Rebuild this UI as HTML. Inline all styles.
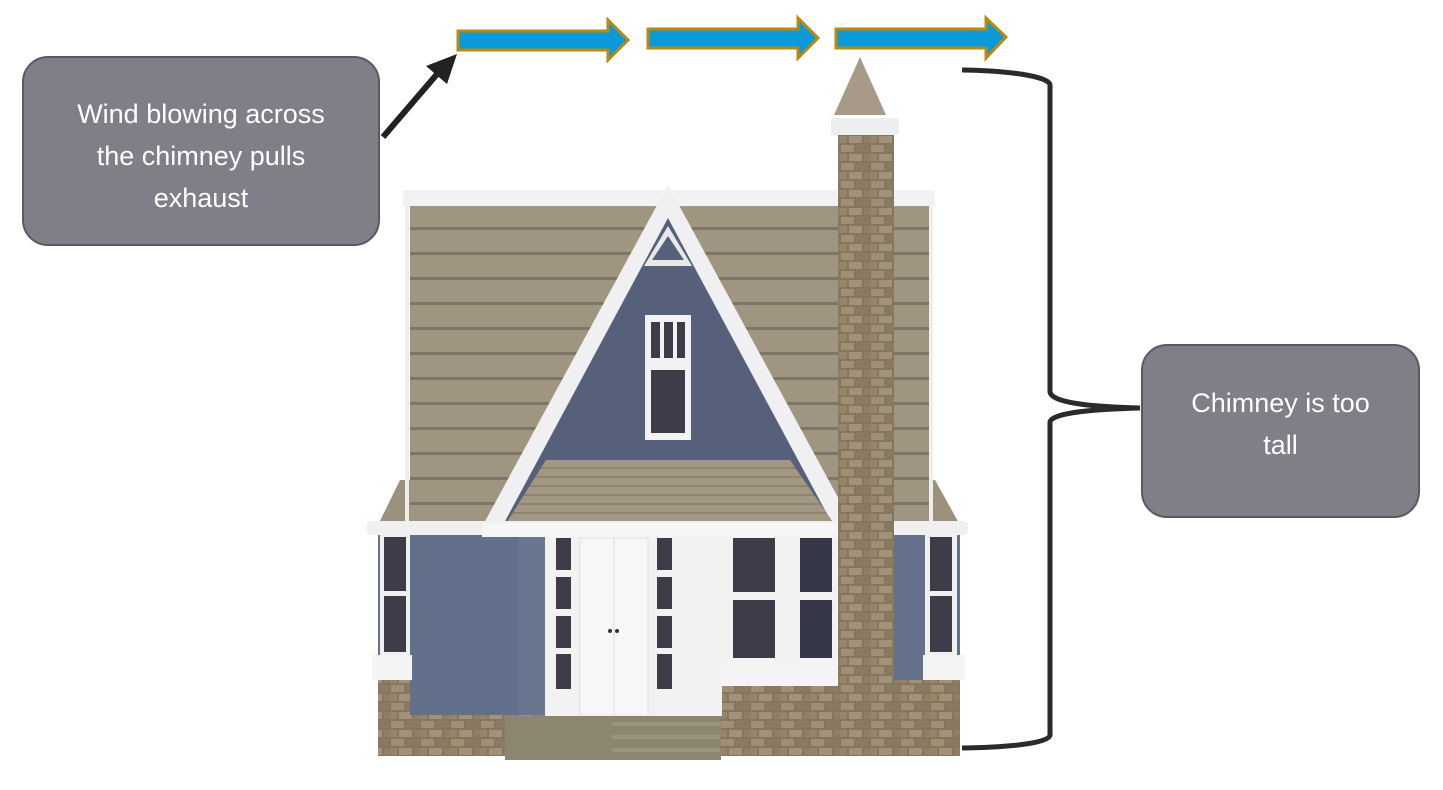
<!DOCTYPE html>
<html><head><style>
html,body{margin:0;padding:0;background:#fff;width:1443px;height:790px;overflow:hidden;}
.box{position:absolute;background:#807f87;border:2px solid #5a5960;border-radius:26px;color:#fff;font-family:"Liberation Sans",sans-serif;font-size:27px;text-align:center;line-height:42px;box-sizing:border-box;}
</style></head><body>
<svg width="1443" height="790" style="position:absolute;left:0;top:0">
<defs>
<pattern id="brick" width="30" height="18" patternUnits="userSpaceOnUse">
<rect width="30" height="18" fill="#857660"/>
<rect x="1" y="1" width="13" height="7" fill="#a08f75"/><rect x="16" y="1" width="13" height="7" fill="#8a7a62"/>
<rect x="-6" y="10" width="13" height="7" fill="#968569"/><rect x="9" y="10" width="13" height="7" fill="#a39279"/><rect x="24" y="10" width="13" height="7" fill="#8f7f66"/>
</pattern>
<pattern id="siding" width="10" height="25" patternUnits="userSpaceOnUse" y="205">
<rect width="10" height="25" fill="#a09581"/><rect y="22" width="10" height="3" fill="#7f7563"/>
</pattern>
<pattern id="siding2" width="10" height="9" patternUnits="userSpaceOnUse" y="460">
<rect width="10" height="9" fill="#a29782"/><rect y="7" width="10" height="2" fill="#8e846f"/>
</pattern>
</defs>
<polygon points="458,31 608,31 608,20 628,40 608,60 608,50 458,50" fill="#0b9ad9" stroke="#b88a12" stroke-width="3"/>
<polygon points="648,29 798,29 798,18 818,38 798,58 798,48 648,48" fill="#0b9ad9" stroke="#b88a12" stroke-width="3"/>
<polygon points="836,29 986,29 986,18 1006,37 986,58 986,48 836,48" fill="#0b9ad9" stroke="#b88a12" stroke-width="3"/>
<line x1="383" y1="137" x2="438" y2="73" stroke="#222" stroke-width="6"/>
<polygon points="457,54 447,84 426,66" fill="#222"/>
<path d="M962,70 C1020,71 1050,78 1050,85 L1050,392 C1052,404 1100,407 1140,408 C1100,409 1052,412 1050,422 L1050,735 C1050,742 1020,747 962,748" fill="none" stroke="#2a2a2a" stroke-width="5"/>
<polygon points="400,480 378,525 960,525 935,480" fill="#9c917c"/>
<rect x="410" y="205" width="520" height="320" fill="url(#siding)"/>
<rect x="403" y="190" width="532" height="16" fill="#f2f2f2"/>
<rect x="405" y="206" width="4" height="320" fill="#eee"/>
<rect x="929" y="206" width="4" height="320" fill="#eee"/>
<polygon points="668,185 853,525 483,525" fill="#f0f0f2"/>
<polygon points="668,218 833,525 503,525" fill="#56607a"/>
<polygon points="668,226 692,266 644,266" fill="#e8e8ea"/>
<polygon points="668,236 684,260 652,260" fill="#55607a"/>
<rect x="645" y="315" width="46" height="125" fill="#f2f2f2"/>
<rect x="651" y="322" width="9" height="36" fill="#3d3c48"/><rect x="664" y="322" width="9" height="36" fill="#3d3c48"/><rect x="677" y="322" width="8" height="36" fill="#3d3c48"/>
<rect x="651" y="370" width="34" height="63" fill="#3d3c48"/>
<polygon points="546,460 790,460 835,525 505,525" fill="url(#siding2)"/>
<rect x="378" y="533" width="582" height="185" fill="#65708b"/>
<rect x="378" y="680" width="582" height="76" fill="url(#brick)"/>
<rect x="410" y="535" width="110" height="180" fill="#63708c"/>
<rect x="518" y="535" width="30" height="180" fill="#6a7590"/>
<rect x="380" y="535" width="30" height="122" fill="#f0f0f0"/>
<rect x="384" y="537" width="22" height="54" fill="#3d3c48"/><rect x="384" y="596" width="22" height="56" fill="#3d3c48"/>
<rect x="372" y="655" width="40" height="25" fill="#f4f4f4"/>
<rect x="545" y="536" width="177" height="180" fill="#f2f2f2"/>
<rect x="556" y="538" width="15" height="32" fill="#3d3c48"/><rect x="556" y="577" width="15" height="32" fill="#3d3c48"/><rect x="556" y="616" width="15" height="32" fill="#3d3c48"/><rect x="556" y="654" width="15" height="35" fill="#3d3c48"/>
<rect x="657" y="538" width="15" height="32" fill="#3d3c48"/><rect x="657" y="577" width="15" height="32" fill="#3d3c48"/><rect x="657" y="616" width="15" height="32" fill="#3d3c48"/><rect x="657" y="654" width="15" height="35" fill="#3d3c48"/>
<rect x="580" y="538" width="68" height="178" fill="#f7f7f7" stroke="#e0e0e0"/>
<line x1="614" y1="538" x2="614" y2="716" stroke="#ddd"/>
<circle cx="610" cy="631" r="2" fill="#333"/><circle cx="617" cy="631" r="2" fill="#333"/>
<rect x="505" y="716" width="216" height="44" fill="#8c8570"/>
<rect x="612" y="722" width="108" height="4" fill="#9b947f"/><rect x="612" y="735" width="108" height="4" fill="#9b947f"/><rect x="612" y="748" width="108" height="4" fill="#9b947f"/>
<rect x="722" y="536" width="116" height="126" fill="#f2f2f2"/>
<rect x="733" y="538" width="42" height="54" fill="#3d3c48"/><rect x="733" y="600" width="42" height="58" fill="#3d3c48"/>
<rect x="800" y="538" width="32" height="54" fill="#363848"/><rect x="800" y="600" width="32" height="58" fill="#363848"/>
<rect x="720" y="660" width="122" height="26" fill="#f4f4f4"/>
<rect x="925" y="535" width="32" height="122" fill="#f0f0f0"/>
<rect x="930" y="537" width="22" height="54" fill="#3d3c48"/><rect x="930" y="596" width="22" height="56" fill="#3d3c48"/>
<rect x="923" y="655" width="42" height="25" fill="#f4f4f4"/>
<rect x="367" y="521" width="601" height="14" rx="4" fill="#f0f0f0"/>
<rect x="482" y="523" width="373" height="14" fill="#f6f6f6"/>
<rect x="838" y="133" width="56" height="623" fill="url(#brick)"/>
<rect x="831" y="118" width="68" height="17" rx="2" fill="#eceef0"/>
<polygon points="860,57 886,115 834,115" fill="#a89a88"/>
</svg>
<div class="box" style="left:22px;top:56px;width:358px;height:190px;padding-top:35px;">Wind blowing across<br>the chimney pulls<br>exhaust</div>
<div class="box" style="left:1141px;top:344px;width:279px;height:174px;padding-top:36px;">Chimney is too<br>tall</div>
</body></html>
